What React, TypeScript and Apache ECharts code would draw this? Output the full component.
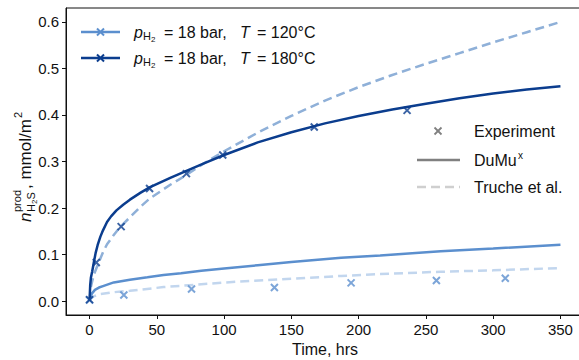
import React, { useEffect, useRef } from "react";
import * as echarts from "echarts";

// ---- data ----
const tSolid180 = [0, 0.5, 1, 2, 3, 4.5, 6, 8, 10, 13, 16, 20, 25, 30, 38, 45, 60, 72, 85, 100, 125, 150, 175, 200, 225, 250, 275, 300, 325, 350];
const ySolid180 = [0, 0.035, 0.05, 0.064, 0.08, 0.103, 0.12, 0.138, 0.152, 0.17, 0.182, 0.195, 0.207, 0.218, 0.233, 0.245, 0.265, 0.28, 0.296, 0.314, 0.341, 0.363, 0.382, 0.398, 0.412, 0.424, 0.436, 0.446, 0.455, 0.462];

const tDash180 = [0, 1, 3, 6, 10, 13, 18, 23, 30, 38, 45, 60, 72, 85, 100, 125, 150, 175, 200, 225, 250, 275, 300, 325, 350];
const yDash180 = [0, 0.03, 0.055, 0.077, 0.105, 0.122, 0.142, 0.16, 0.18, 0.203, 0.221, 0.25, 0.271, 0.296, 0.322, 0.362, 0.398, 0.431, 0.46, 0.486, 0.51, 0.533, 0.556, 0.578, 0.6];

const tSolid120 = [0, 0.5, 1, 2, 4, 7, 10, 18, 30, 43, 55, 68, 83, 100, 125, 150, 187, 216, 261, 300, 350];
const ySolid120 = [0, 0.008, 0.012, 0.017, 0.024, 0.029, 0.032, 0.04, 0.046, 0.051, 0.056, 0.06, 0.065, 0.07, 0.077, 0.084, 0.093, 0.098, 0.107, 0.113, 0.121];

const tDash120 = [0, 1, 3, 8, 18, 30, 55, 83, 112, 150, 187, 216, 261, 300, 350];
const yDash120 = [0, 0.006, 0.01, 0.015, 0.019, 0.022, 0.03, 0.036, 0.042, 0.048, 0.054, 0.058, 0.063, 0.066, 0.071];

const tExp180 = [0, 5, 23.5, 44.6, 72, 99, 167, 236];
const yExp180 = [0.003, 0.083, 0.16, 0.242, 0.274, 0.314, 0.374, 0.41];

const tExp120 = [0, 25.5, 75.8, 137.4, 194.4, 257.8, 309];
const yExp120 = [0.002, 0.013, 0.026, 0.029, 0.039, 0.044, 0.049];

const xTicks = [0, 50, 100, 150, 200, 250, 300, 350];
const yTicks = [0, 0.1, 0.2, 0.3, 0.4, 0.5, 0.6];

// ---- styles ----
const DARK = "#0b3d8e";
const LIGHT = "#5b8fce";
const DASH_DARK = "#8fb0d8";
const DASH_LIGHT = "#c2d6ee";
const FONT = "Liberation Sans";
const CROSS = "path://M0,0L10,10M10,0L0,10";

const zip = (a: number[], b: number[]) => a.map((v, i) => [v, b[i]]);

function crossEl(cx: number, cy: number, s: number, color: string, lw: number) {
  return [
    { type: "line", shape: { x1: cx - s, y1: cy - s, x2: cx + s, y2: cy + s }, style: { stroke: color, lineWidth: lw } },
    { type: "line", shape: { x1: cx - s, y1: cy + s, x2: cx + s, y2: cy - s }, style: { stroke: color, lineWidth: lw } },
  ];
}

function txt(x: number, y: number, text: string, size: number, extra: any = {}) {
  return {
    type: "text",
    x,
    y,
    style: {
      text,
      fontSize: size,
      fontFamily: FONT,
      fill: "#111",
      textAlign: "left",
      verticalAlign: "middle",
      textVerticalAlign: "middle",
      ...extra,
    },
  };
}

function legendRow(y: number, color: string, temp: string) {
  return [
    { type: "line", shape: { x1: 81, y1: y, x2: 120, y2: y }, style: { stroke: color, lineWidth: 2.5 } },
    ...crossEl(100.5, y, 3.5, color, 2),
    txt(134, y, "p", 16, { fontStyle: "italic" }),
    txt(143, y + 4, "H", 11),
    txt(151, y + 7, "2", 8),
    txt(164, y, "= 18 bar,", 16),
    txt(240, y, "T", 16, { fontStyle: "italic" }),
    txt(257, y, "= " + temp + "°C", 16),
  ];
}

export default function App() {
  const ref = useRef<HTMLDivElement>(null);
  useEffect(() => {
    if (!ref.current) return;
    const chart = echarts.init(ref.current, null, { renderer: "svg" });
    const axisText = { fontSize: 15, fontFamily: FONT, color: "#111" };
    const yLabelGroup = {
      type: "group",
      x: 25,
      y: 222,
      rotation: Math.PI / 2,
      children: [
        txt(0, 0, "n", 17, { fontStyle: "italic" }),
        txt(10, -8, "prod", 11),
        txt(10, 6, "H", 11),
        txt(18, 9, "2", 8),
        txt(22.5, 6, "S", 11),
        txt(33, 0, ", mmol/m", 17),
        txt(104, -7, "2", 11),
      ],
    };
    const lineCommon = { symbol: "none", smooth: false };
    chart.setOption({
      animation: false,
      grid: { left: 66, right: -5, top: 8, bottom: 45, containLabel: false, outerBoundsMode: "none", show: true, borderColor: "#111", borderWidth: 1 },
      xAxis: {
        type: "value",
        min: -17.5,
        max: 367.5,
        name: "Time, hrs",
        nameLocation: "middle",
        nameGap: 26,
        nameTextStyle: { fontSize: 16, fontFamily: FONT, color: "#111" },
        axisLine: { show: true, onZero: false, lineStyle: { color: "#111", width: 1 } },
        axisTick: { show: true, length: 4, inside: false, customValues: xTicks, lineStyle: { color: "#111" } },
        axisLabel: { ...axisText, margin: 7, customValues: xTicks, formatter: (v: number) => String(v) },
        splitLine: { show: false },
      },
      yAxis: {
        type: "value",
        min: -0.03,
        max: 0.63,
        axisLine: { show: true, onZero: false, lineStyle: { color: "#111", width: 1 } },
        axisTick: { show: true, length: 4, inside: false, customValues: yTicks, lineStyle: { color: "#111" } },
        axisLabel: { ...axisText, margin: 7, customValues: yTicks, formatter: (v: number) => v.toFixed(1) },
        splitLine: { show: false },
      },
      series: [
        { type: "line", data: zip(tDash120, yDash120), ...lineCommon, lineStyle: { color: DASH_LIGHT, width: 2.5, type: [9, 5] }, z: 2 },
        { type: "line", data: zip(tDash180, yDash180), ...lineCommon, lineStyle: { color: DASH_DARK, width: 2.5, type: [9, 5] }, z: 2 },
        { type: "line", data: zip(tSolid120, ySolid120), ...lineCommon, lineStyle: { color: LIGHT, width: 2.5 }, z: 3 },
        { type: "line", data: zip(tSolid180, ySolid180), ...lineCommon, lineStyle: { color: DARK, width: 2.5 }, z: 3 },
        { type: "scatter", data: zip(tExp120, yExp120), symbol: CROSS, symbolSize: 7, itemStyle: { color: LIGHT, borderColor: LIGHT, borderWidth: 2 }, z: 4 },
        { type: "scatter", data: zip(tExp180, yExp180), symbol: CROSS, symbolSize: 7, itemStyle: { color: DARK, borderColor: DARK, borderWidth: 2 }, z: 4 },
      ],
      graphic: [
        ...legendRow(32, LIGHT, "120"),
        ...legendRow(58, DARK, "180"),
        ...crossEl(438, 131, 3.5, "#808080", 1.8),
        txt(474, 131, "Experiment", 16),
        { type: "line", shape: { x1: 417, y1: 160, x2: 460, y2: 160 }, style: { stroke: "#808080", lineWidth: 2.5 } },
        txt(474, 160, "DuMu", 16),
        txt(518, 155, "x", 10),
        { type: "line", shape: { x1: 417, y1: 187, x2: 460, y2: 187 }, style: { stroke: "#cfcfcf", lineWidth: 2.5, lineDash: [9, 5] } },
        txt(474, 187, "Truche et al.", 16),
        yLabelGroup,
      ],
    });
    return () => chart.dispose();
  }, []);
  return <div ref={ref} style={{ width: 579, height: 360, position: "absolute", left: 0, top: 0 }} />;
}
